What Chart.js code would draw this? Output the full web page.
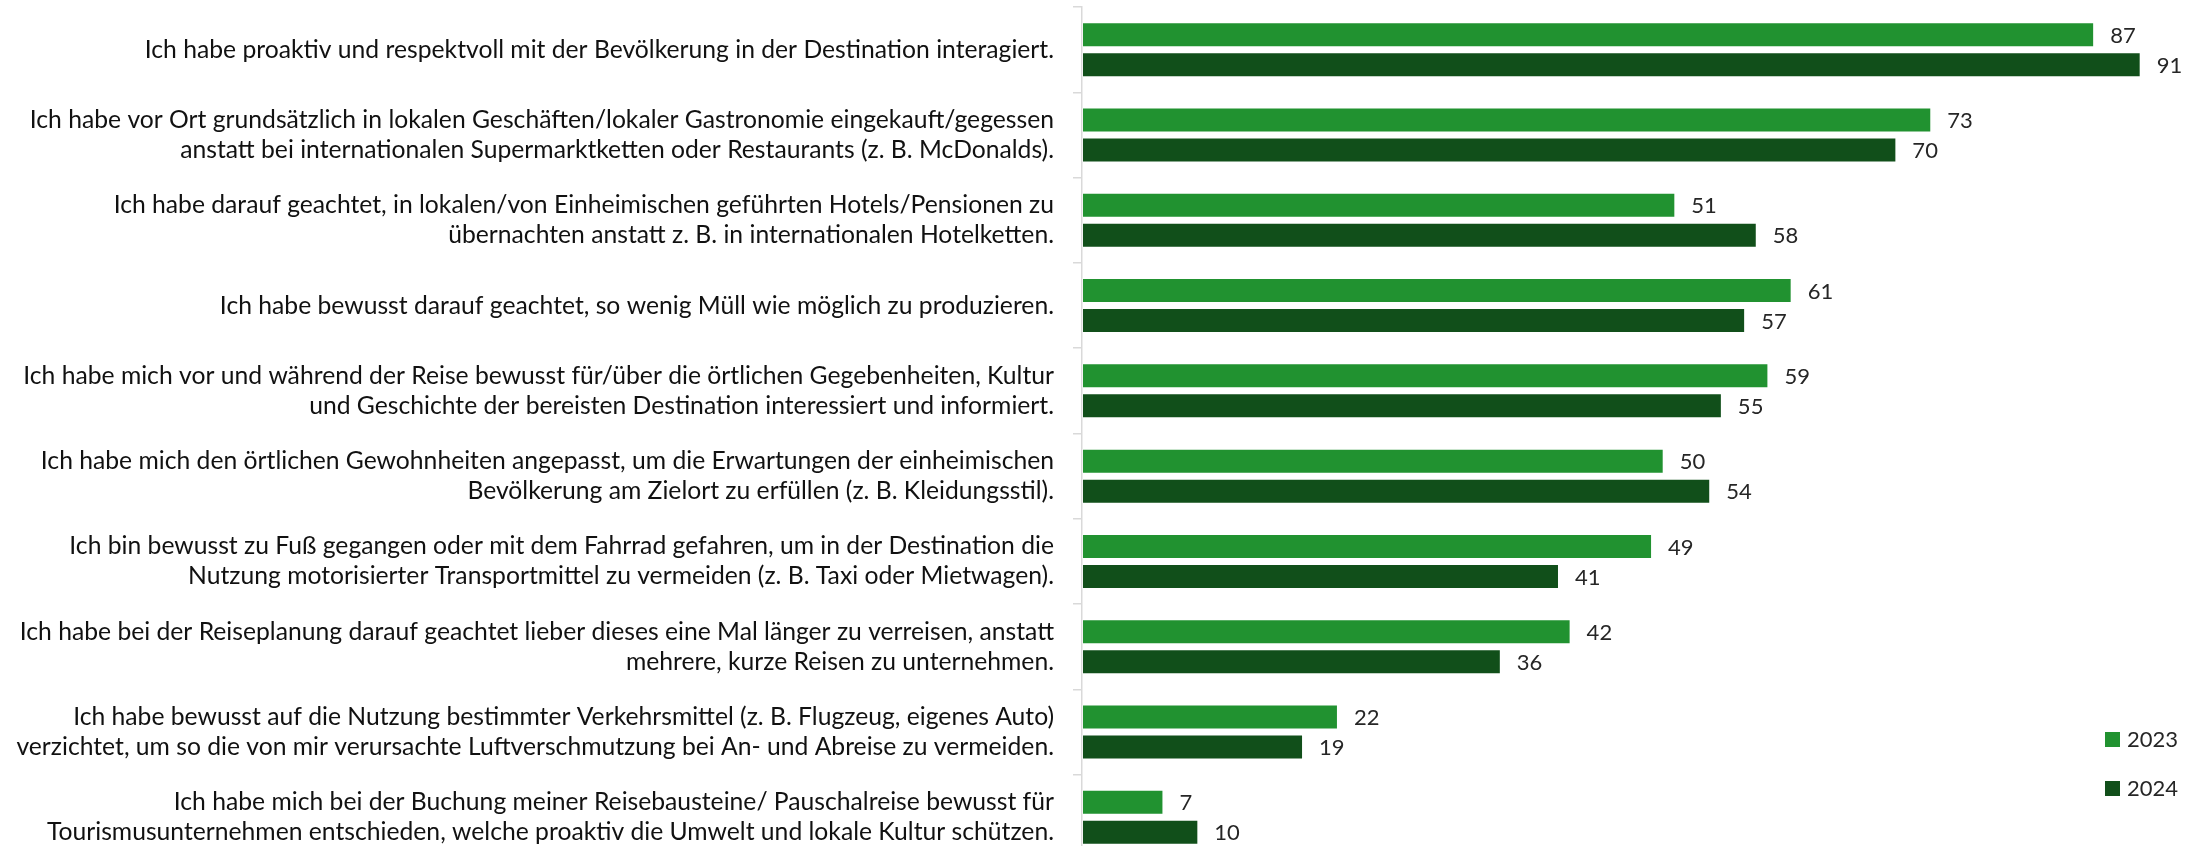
<!DOCTYPE html>
<html lang="de">
<head>
<meta charset="utf-8">
<title>Nachhaltiges Reiseverhalten 2023 / 2024</title>
<script src="https://cdn.jsdelivr.net/npm/chart.js@4.4.1/dist/chart.umd.min.js"></script>
<style>
    html, body { margin: 0; padding: 0; background: #fff; overflow: hidden; }
    #wrap { position: relative; width: 2207px; height: 860px; }
</style>
</head>
<body>
<div id="wrap"><canvas id="chart"></canvas></div>
<script>
const categories = [
    ['Ich habe proaktiv und respektvoll mit der Bevölkerung in der Destination interagiert.'],
    ['Ich habe vor Ort grundsätzlich in lokalen Geschäften/lokaler Gastronomie eingekauft/gegessen',
     'anstatt bei internationalen Supermarktketten oder Restaurants (z. B. McDonalds).'],
    ['Ich habe darauf geachtet, in lokalen/von Einheimischen geführten Hotels/Pensionen zu',
     'übernachten anstatt z. B. in internationalen Hotelketten.'],
    ['Ich habe bewusst darauf geachtet, so wenig Müll wie möglich zu produzieren.'],
    ['Ich habe mich vor und während der Reise bewusst für/über die örtlichen Gegebenheiten, Kultur',
     'und Geschichte der bereisten Destination interessiert und informiert.'],
    ['Ich habe mich den örtlichen Gewohnheiten angepasst, um die Erwartungen der einheimischen',
     'Bevölkerung am Zielort zu erfüllen (z. B. Kleidungsstil).'],
    ['Ich bin bewusst zu Fuß gegangen oder mit dem Fahrrad gefahren, um in der Destination die',
     'Nutzung motorisierter Transportmittel zu vermeiden (z. B. Taxi oder Mietwagen).'],
    ['Ich habe bei der Reiseplanung darauf geachtet lieber dieses eine Mal länger zu verreisen, anstatt',
     'mehrere, kurze Reisen zu unternehmen.'],
    ['Ich habe bewusst auf die Nutzung bestimmter Verkehrsmittel (z. B. Flugzeug, eigenes Auto)',
     'verzichtet, um so die von mir verursachte Luftverschmutzung bei An- und Abreise zu vermeiden.'],
    ['Ich habe mich bei der Buchung meiner Reisebausteine/ Pauschalreise bewusst für',
     'Tourismusunternehmen entschieden, welche proaktiv die Umwelt und lokale Kultur schützen.']
];

const seriesNames = ['2023', '2024'];
const values2023 = [87, 73, 51, 61, 59, 50, 49, 42, 22, 7];
const values2024 = [91, 70, 58, 57, 55, 54, 41, 36, 19, 10];

const seriesColors = ['#219230', '#114f1a'];
const FONT = 'Lato, "Open Sans", sans-serif';

// numbers right of each bar
const valueLabels = {
    id: 'valueLabels',
    afterDatasetsDraw(chart) {
        const ctx = chart.ctx;
        ctx.save();
        ctx.font = '22px ' + FONT;
        ctx.fillStyle = '#262626';
        ctx.textAlign = 'left';
        ctx.textBaseline = 'middle';
        chart.data.datasets.forEach((ds, i) => {
            chart.getDatasetMeta(i).data.forEach((bar, j) => {
                ctx.fillText(ds.data[j], bar.x + 16, bar.y + 1);
            });
        });
        ctx.restore();
    }
};

// stacked legend in the lower right corner
const cornerLegend = {
    id: 'cornerLegend',
    afterDraw(chart, args, opts) {
        const ctx = chart.ctx;
        ctx.save();
        ctx.font = '22px ' + FONT;
        ctx.textAlign = 'left';
        ctx.textBaseline = 'middle';
        chart.data.datasets.forEach((ds, i) => {
            const y = opts.top + i * opts.rowGap;
            ctx.fillStyle = ds.backgroundColor;
            ctx.fillRect(opts.left, y, 15, 15);
            ctx.fillStyle = '#262626';
            ctx.fillText(ds.label, opts.left + 22, y + 8);
        });
        ctx.restore();
    }
};

new Chart(document.getElementById('chart'), {
    type: 'bar',
    data: {
        labels: categories,
        datasets: [
            { label: seriesNames[0], data: values2023, backgroundColor: seriesColors[0] },
            { label: seriesNames[1], data: values2024, backgroundColor: seriesColors[1] }
        ]
    },
    options: {
        indexAxis: 'y',
        responsive: true,
        maintainAspectRatio: false,
        animation: false,
        layout: { padding: { top: 7, left: 0, right: 0, bottom: 0 } },
        datasets: {
            bar: {
                categoryPercentage: 0.704,
                barPercentage: 0.833,
                borderWidth: 1,
                borderColor: 'rgba(255,255,255,0.3)',
                borderSkipped: false
            }
        },
        scales: {
            x: { display: false, min: 0, max: 96.7 },
            y: {
                afterFit(scale) {
                    // fixed label column; no extra room above/below the first and last label
                    scale.width = 1082;
                    scale.paddingTop = 0;
                    scale.paddingBottom = 0;
                },
                border: { display: true, color: '#d9d9d9', width: 1.5 },
                grid: {
                    display: true,
                    drawOnChartArea: false,
                    drawTicks: true,
                    tickLength: 9,
                    color: '#d9d9d9',
                    lineWidth: 1.5,
                    offset: true
                },
                ticks: {
                    color: '#111',
                    padding: 19,
                    font: { family: FONT, size: 24.7, lineHeight: 1.215 }
                }
            }
        },
        plugins: {
            legend: { display: false },
            tooltip: { enabled: false },
            cornerLegend: { left: 2105, top: 732, rowGap: 49 }
        }
    },
    plugins: [valueLabels, cornerLegend]
});
</script>
</body>
</html>
